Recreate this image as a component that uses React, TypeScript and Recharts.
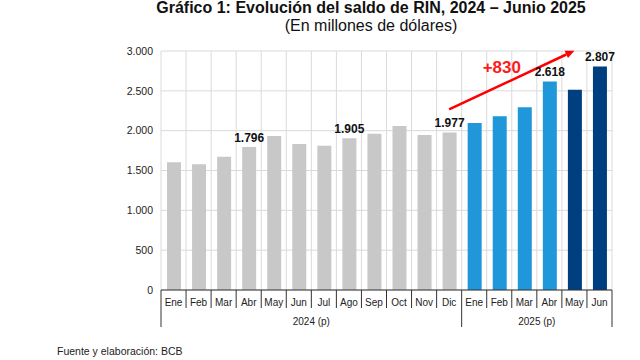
import React from "react";
import {
  BarChart,
  Bar,
  XAxis,
  YAxis,
  CartesianGrid,
  Cell,
  LabelList,
  ReferenceLine,
} from "recharts";

const months = [
  "Ene", "Feb", "Mar", "Abr", "May", "Jun", "Jul", "Ago", "Sep", "Oct", "Nov", "Dic",
  "Ene", "Feb", "Mar", "Abr", "May", "Jun",
];
const years = ["2024", "2024", "2024", "2024", "2024", "2024", "2024", "2024", "2024", "2024", "2024", "2024",
  "2025", "2025", "2025", "2025", "2025", "2025"];
const rin = [
  1603, 1578, 1673, 1796, 1933, 1833, 1811, 1905, 1962, 2059, 1946, 1977,
  2096, 2180, 2293, 2618, 2515, 2807,
];
const showLabel = [
  false, false, false, true, false, false, false, true, false, false, false, true,
  false, false, false, true, false, true,
];
const yTicks = [0, 500, 1000, 1500, 2000, 2500, 3000];
const yearLabels = ["2024 (p)", "2025 (p)"];

const GRAY = "#c8c8c8";
const LIGHT_BLUE = "#1f97d8";
const DARK_BLUE = "#003f7f";

const fmt = (v: number) => String(v).replace(/\B(?=(\d{3})+(?!\d))/g, ".");

const data = months.map((m, i) => ({
  key: `${m}-${years[i]}`,
  month: m,
  value: rin[i],
  label: showLabel[i] ? fmt(rin[i]) : "",
}));

const barColor = (i: number) => (i < 12 ? GRAY : i < 16 ? LIGHT_BLUE : DARK_BLUE);

const PLOT_W = 451;
const BAND = PLOT_W / months.length;

function MonthTick(props: any) {
  const { x, y, payload } = props;
  const i = payload.index;
  const left = x - BAND / 2;
  const right = x + BAND / 2;
  const yearStart = i === 0 || i === 12;
  return (
    <g>
      <line x1={left} y1={y} x2={left} y2={y + (yearStart ? 37 : 18)} stroke="#333" strokeWidth={1} />
      {i === months.length - 1 && (
        <line x1={right} y1={y} x2={right} y2={y + 37} stroke="#333" strokeWidth={1} />
      )}
      <text x={x} y={y + 16} textAnchor="middle" fontSize={10} fill="#222">
        {months[i]}
      </text>
      {i === 5 && (
        <text x={right} y={y + 35} textAnchor="middle" fontSize={10} fill="#222">
          {yearLabels[0]}
        </text>
      )}
      {i === 14 && (
        <text x={right} y={y + 35} textAnchor="middle" fontSize={10} fill="#222">
          {yearLabels[1]}
        </text>
      )}
    </g>
  );
}

function Arrow(props: any) {
  const { x1, y1, x2, y2 } = props;
  const ang = Math.atan2(y2 - y1, x2 - x1);
  const head = 9;
  const bx = x2 - head * Math.cos(ang);
  const by = y2 - head * Math.sin(ang);
  const px = Math.sin(ang) * 4;
  const py = -Math.cos(ang) * 4;
  const mx = (x1 + x2) / 2;
  const my = (y1 + y2) / 2;
  return (
    <g>
      <line x1={x1} y1={y1} x2={bx} y2={by} stroke="#ff0000" strokeWidth={2.5} />
      <polygon points={`${x2},${y2} ${bx + px},${by + py} ${bx - px},${by - py}`} fill="#ff0000" />
      <text x={mx - 10} y={my - 7} textAnchor="middle" fontSize={17} fontWeight="bold" fill="#ff1a1a">
        +830
      </text>
    </g>
  );
}

export default function App() {
  return (
    <div
      style={{
        position: "relative",
        width: 640,
        height: 360,
        background: "#fff",
        fontFamily: "'Liberation Sans', Arial, sans-serif",
        color: "#111",
      }}
    >
      <style>{`body{margin:0}`}</style>
      <div
        style={{
          position: "absolute",
          left: 0,
          width: 742,
          top: 0,
          textAlign: "center",
          fontSize: 16,
          fontWeight: "bold",
          lineHeight: "16px",
        }}
      >
        Gráfico 1: Evolución del saldo de RIN, 2024 – Junio 2025
      </div>
      <div
        style={{
          position: "absolute",
          left: 0,
          width: 742,
          top: 17,
          textAlign: "center",
          fontSize: 16,
          lineHeight: "18px",
        }}
      >
        (En millones de dólares)
      </div>
      <div
        style={{
          position: "absolute",
          left: 57,
          top: 345,
          fontSize: 10.5,
          lineHeight: "12px",
          color: "#222",
        }}
      >
        Fuente y elaboración: BCB
      </div>
      <div style={{ position: "absolute", left: 0, top: 0 }}>
        <BarChart
          width={640}
          height={360}
          data={data}
          margin={{ top: 51, right: 28, bottom: 30, left: 111 }}
          barSize={14}
        >
          <CartesianGrid
            stroke="#dadada"
            verticalCoordinatesGenerator={({ offset }: any) =>
              Array.from({ length: months.length + 1 }, (_, i) => offset.left + (i * offset.width) / months.length)
            }
          />
          <XAxis
            dataKey="key"
            height={40}
            interval={0}
            tickSize={0}
            tickMargin={0}
            tickLine={false}
            axisLine={{ stroke: "#333" }}
            tick={<MonthTick />}
          />
          <YAxis
            width={50}
            domain={[0, 3000]}
            ticks={yTicks}
            tickFormatter={fmt}
            axisLine={false}
            tickLine={false}
            tick={{ fontSize: 10.5, fill: "#222" }}
          />
          <Bar dataKey="value" isAnimationActive={false}>
            {data.map((d, i) => (
              <Cell key={d.key} fill={barColor(i)} />
            ))}
            <LabelList dataKey="label" position="top" fontSize={12} fontWeight="bold" fill="#111" />
          </Bar>
          <ReferenceLine
            segment={[
              { x: "Dic-2024", y: 2268 },
              { x: "May-2025", y: 3004 },
            ]}
            ifOverflow="visible"
            shape={<Arrow />}
          />
        </BarChart>
      </div>
    </div>
  );
}
